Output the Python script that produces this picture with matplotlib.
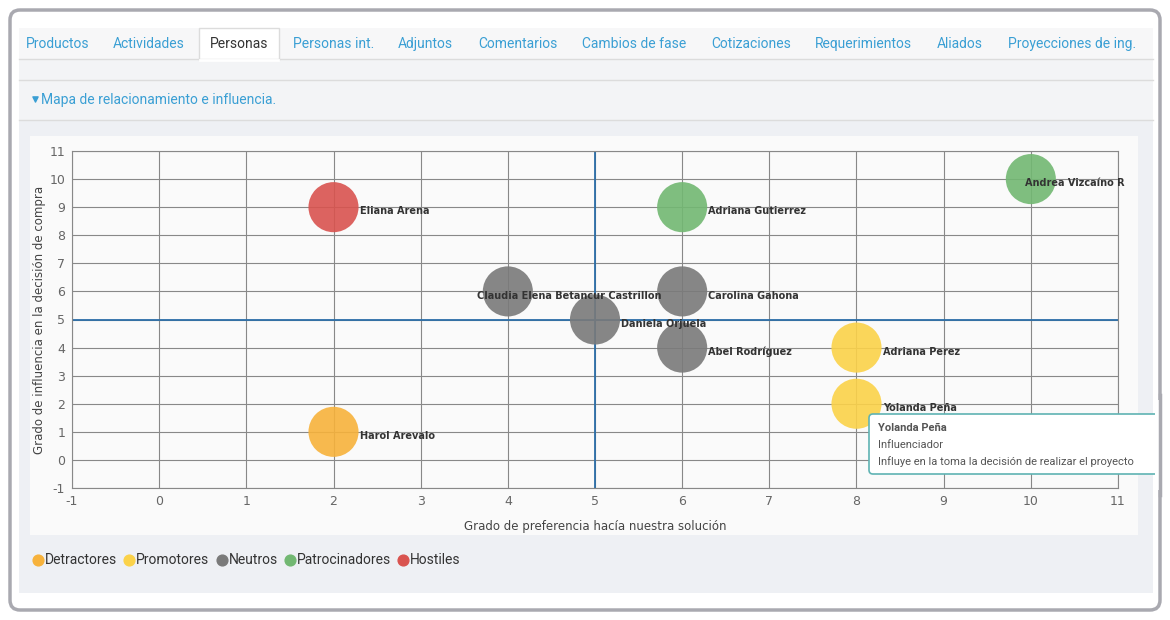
import matplotlib.pyplot as plt
from matplotlib.patches import FancyBboxPatch, Rectangle

plt.rcParams["axes.unicode_minus"] = False

# datos
names = ["Eliana Arena", "Adriana Gutierrez", "Andrea Vizcaíno R",
         "Claudia Elena Betancur Castrillon", "Carolina Gahona", "Daniela Orjuela",
         "Abel Rodríguez", "Adriana Perez", "Yolanda Peña", "Harol Arevalo"]
pref = [2, 6, 10, 4, 6, 5, 6, 8, 8, 2]
infl = [9, 9, 10, 6, 6, 5, 4, 4, 2, 1]
group = ["Hostiles", "Patrocinadores", "Patrocinadores", "Neutros", "Neutros", "Neutros",
         "Neutros", "Promotores", "Promotores", "Detractores"]
legend_groups = ["Detractores", "Promotores", "Neutros", "Patrocinadores", "Hostiles"]
tabs = ["Productos", "Actividades", "Personas", "Personas int.", "Adjuntos", "Comentarios",
        "Cambios de fase", "Cotizaciones", "Requerimientos", "Aliados", "Proyecciones de ing."]
ticks = list(range(-1, 12))

colors = {"Detractores": "#f7b23b", "Promotores": "#fbd249", "Neutros": "#7a7a7a",
          "Patrocinadores": "#72b872", "Hostiles": "#d9534f"}
link = "#3a9fd4"

W, H = 1170, 620
fig = plt.figure(figsize=(W / 100, H / 100), dpi=100)
fig.patch.set_facecolor("white")
bg = fig.add_axes([0, 0, 1, 1])
bg.set_xlim(0, W)
bg.set_ylim(H, 0)
bg.axis("off")

# marco y paneles
bg.add_patch(FancyBboxPatch((10, 10), 1150, 600, boxstyle="round,pad=0,rounding_size=10",
                            fc="white", ec="#a9a9b0", lw=2.5))
bg.add_patch(Rectangle((19, 28), 1134, 31, fc="#f7f7f8", ec="none"))
bg.add_patch(Rectangle((19, 59), 1134, 534, fc="#f3f4f6", ec="none"))
bg.plot([19, 1153], [59, 59], color="#dcdcdc", lw=1)
bg.plot([19, 1153], [80, 80], color="#dcdcdc", lw=1)
bg.plot([19, 1153], [120, 120], color="#dcdcdc", lw=1)
bg.add_patch(Rectangle((19, 121), 1134, 472, fc="#eef0f4", ec="none"))
bg.add_patch(Rectangle((30, 136), 1108, 399, fc="#fafafa", ec="none"))

# pestañas
tab_x = [26, 113, 210, 293, 398, 478, 582, 711, 815, 937, 1008]
for t, x in zip(tabs, tab_x):
    if t == "Personas":
        bg.add_patch(Rectangle((x - 11, 28), 80, 32, fc="white", ec="#dcdcdc", lw=1))
        bg.plot([x - 10, x + 68], [60, 60], color="white", lw=2)
    bg.text(x, 44, t, fontsize=10, color="#333333" if t == "Personas" else link,
            va="center", ha="left", family="Roboto")
bg.scatter([35], [99], marker="v", s=14, color=link)
bg.text(41, 100, "Mapa de relacionamiento e influencia.", fontsize=10, color=link,
        va="center", ha="left", family="Roboto")

# gráfico
ax = fig.add_axes([72 / W, 1 - 488 / H, (1118 - 72) / W, (488 - 151) / H])
ax.set_facecolor("#fafafa")
ax.set_xlim(-1, 11)
ax.set_ylim(-1, 11)
ax.set_xticks(ticks)
ax.set_yticks(ticks)
ax.grid(color="#888888", lw=0.8)
ax.set_axisbelow(True)
for s in ax.spines.values():
    s.set_color("#888888")
    s.set_linewidth(0.8)
ax.tick_params(length=0, labelsize=9, colors="#666666", pad=5)
ax.axvline(5, color="#2b6ea8", lw=1.3, zorder=1)
ax.axhline(5, color="#2b6ea8", lw=1.3, zorder=1)
ax.set_xlabel("Grado de preferencia hacía nuestra solución", fontsize=8.5, color="#444444", labelpad=9)
ax.set_ylabel("Grado de influencia en la decisión de compra", fontsize=8.5, color="#444444", labelpad=2)

ax.scatter(pref, infl, s=1300, c=[colors[g] for g in group], alpha=0.9, edgecolors="none", zorder=3)
for n, x, y in zip(names, pref, infl):
    if n.startswith("Claudia"):
        dx = -0.35
    elif n.startswith("Andrea"):
        dx = -0.07
    else:
        dx = 0.3
    ax.text(x + dx, y - 0.15, n, fontsize=7, fontweight="bold", color="#333333",
            va="center", ha="left", zorder=4)

# tooltip
top = fig.add_axes([0, 0, 1, 1], facecolor="none")
top.set_xlim(0, W)
top.set_ylim(H, 0)
top.axis("off")
top.add_patch(FancyBboxPatch((869, 414), 300, 60, boxstyle="round,pad=0,rounding_size=4",
                             fc="white", ec="#5fb3b3", lw=1.2))
top.text(878, 428, "Yolanda Peña", fontsize=8, fontweight="bold", color="#555555", va="center",
         family="Roboto")
top.text(878, 445, "Influenciador", fontsize=8, color="#555555", va="center", family="Roboto")
top.text(878, 462, "Influye en la toma la decisión de realizar el proyecto", fontsize=8,
         color="#555555", va="center", family="Roboto")
top.add_patch(Rectangle((1155, 400), 15, 90, fc="white", ec="none"))
top.plot([1160, 1160], [395, 495], color="#a9a9b0", lw=2.5)

# leyenda
lx = 38
for g in legend_groups:
    bg.scatter([lx], [560], s=60, color=colors[g], zorder=3)
    t = bg.text(lx + 7, 560, g, fontsize=10, color="#333333", va="center", ha="left",
                family="Roboto")
    fig.canvas.draw()
    lx = t.get_window_extent().x1 + 12

fig.savefig("out.png", dpi=100)
